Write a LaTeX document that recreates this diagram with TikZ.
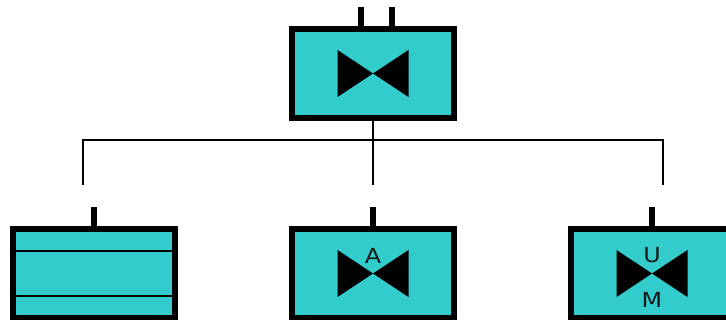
\documentclass[tikz,border=0pt]{standalone}
\usepackage{fontspec}
\setmainfont[FakeStretch=1.15]{DejaVu Sans}
\usetikzlibrary{positioning, calc}
\definecolor{tealfill}{RGB}{51,204,204}

\begin{document}
\begin{tikzpicture}[x=0.02cm, y=-0.02cm]
    \tikzstyle{unit} = [rectangle,draw=black,line width=0.13cm,fill=tealfill,minimum width=3.24cm,minimum height=1.78cm]
    \tikzstyle{pin} = [draw=black,line width=0.13cm]
    \tikzstyle{wire} = [draw=black,line width=0.04cm]
    \tikzstyle{label} = [inner sep=0pt,font=\fontsize{11.8pt}{13pt}\selectfont,text=black!90]

    \clip (0,0) rectangle (726,320);

    \node[unit] (top) at (373,73.5){};
    \node[unit] (left) at (94,273.5){};
    \node[unit] (middle) at (373,273.5){};
    \node[unit] (right) at (652,273.5){};

    % stubs on the boxes
    \coordinate (pinA) at (361,7);
    \coordinate (pinB) at (392,7);
    \coordinate (pinL) at (94,207);
    \coordinate (pinM) at (373,207);
    \coordinate (pinR) at (652,207);
    \foreach \p/\b in {pinA/top,pinB/top,pinL/left,pinM/middle,pinR/right}
        \draw[pin] (\p) -- (\p |- \b.north);

    % bowties
    \foreach \b in {top,middle,right}
        \fill[black] ($(\b.center)+(-35.5,-23.5)$) -- ($(\b.center)+(35.5,23.5)$) -- ($(\b.center)+(35.5,-23.5)$) -- ($(\b.center)+(-35.5,23.5)$) -- cycle;

    % bars in the left box
    \coordinate (barA) at (94,251.5);
    \coordinate (barB) at (94,296);
    \draw[wire] (left.west |- barA) -- (left.east |- barA);
    \draw[wire] (left.west |- barB) -- (left.east |- barB);

    \node[label] (a) at (373,255.5){A};
    \node[label] (u) at (652,255.5){U};
    \node[label] (m) at (652,300){M};

    % tree
    \coordinate (busL) at (82.5,140);
    \coordinate (busR) at (663,140);
    \coordinate (endL) at (82.5,185);
    \coordinate (endM) at (373,185);
    \coordinate (endR) at (663,185);
    \draw[wire] (endL) -- (busL) -- (busR) -- (endR);
    \draw[wire] (top.south) -- (endM);
\end{tikzpicture}
\end{document}
